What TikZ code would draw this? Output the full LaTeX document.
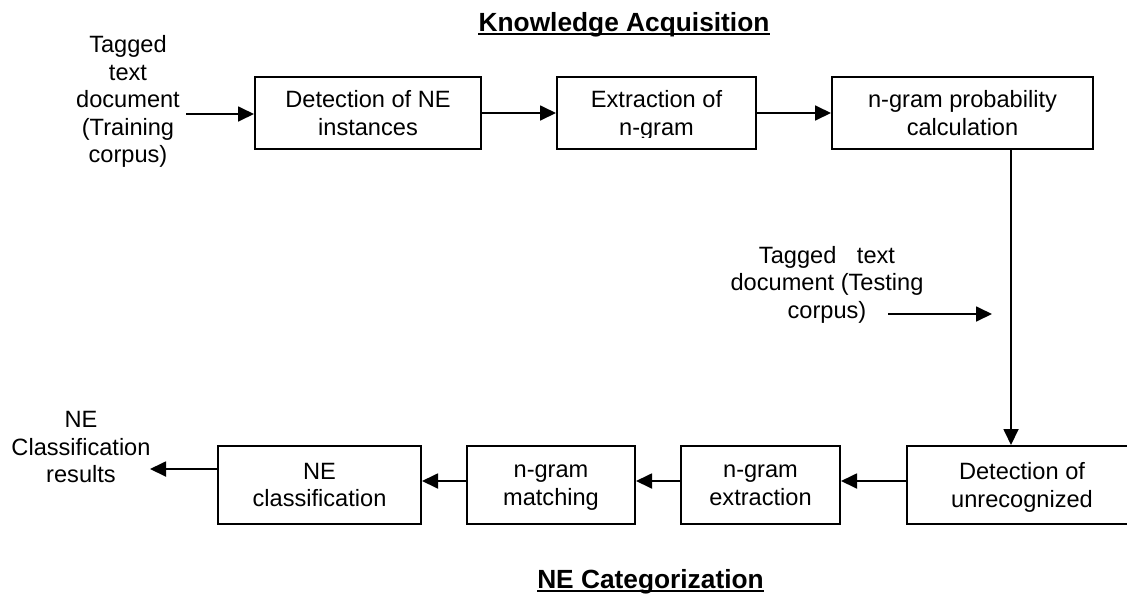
\documentclass[tikz,border=0pt]{standalone}
\usepackage{fontspec}
\setmainfont{Liberation Sans}
\usetikzlibrary{arrows.meta}
\newcommand\lab{\fontsize{23.6}{27.5}\selectfont}
\newcommand\ttl{\fontsize{26.3}{30}\selectfont\bfseries}
\begin{document}
\begin{tikzpicture}[x=1pt,y=-1pt,
  box/.style={draw, line width=2pt, inner sep=0pt, align=center, font=\lab, text depth=0pt},
  lab/.style={align=center, font=\lab, inner sep=0pt},
  ttlnode/.style={font=\ttl, anchor=base, inner sep=0pt},
  uline/.style={line width=2pt},
  arr/.style={line width=1.8pt, -{Triangle[length=16pt,width=15pt]}},
]
\useasboundingbox (0,0) rectangle (1127,595);
\fill[white] (0,0) rectangle (1127,595);

% titles
\node[ttlnode] (t1) at (624,31) {Knowledge Acquisition};
\draw[uline] ([yshift=-3pt]t1.base west) -- ([yshift=-3pt]t1.base east);
\node[ttlnode] (t2) at (650.5,588) {NE Categorization};
\draw[uline] ([yshift=-3pt]t2.base west) -- ([yshift=-3pt]t2.base east);

% top row
\node[box, minimum width=226pt, minimum height=72pt] (b1) at (368,113) {Detection of NE\\instances};
\node[box, minimum width=199pt, minimum height=72pt] (b2) at (656.5,113) {};
\begin{scope}
  \clip (557,77) rectangle (756,137.5);
  \node[lab, text depth=0pt] (b2t) at (656.5,113) {Extraction of\\n-gram};
\end{scope}
\node[box, minimum width=261pt, minimum height=72pt] (b3) at (962.5,113) {n-gram probability\\calculation};

% bottom row
\node[box, minimum width=203pt, minimum height=78pt] (b4) at (319.5,485) {NE\\classification};
\node[box, minimum width=168pt, minimum height=78pt] (b5) at (551,485) {n-gram\\matching};
\node[box, minimum width=159pt, minimum height=78pt] (b6) at (760.5,485) {n-gram\\extraction};
\node[box, minimum width=230pt, minimum height=78pt] (b7) at (1022,485) {Detection of\\unrecognized};

% free labels
\node[lab] (train) at (128,101.5) {Tagged\\text\\document\\(Training\\corpus)};
\node[lab] (test) at (827,284.4) {Tagged\hspace{14pt} text\\document (Testing\\corpus)};
\node[lab] (res) at (81,447) {NE\\Classification\\results};

% coordinates
\coordinate (tin) at (186,114);
\coordinate (tsA) at (888,314);
\coordinate (tsB) at (992,314);
\coordinate (v) at (1011,0);
\coordinate (rout) at (150,469);
\coordinate (brow) at (0,481);

% connectors
\draw[arr] (tin) -- (tin -| b1.west);
\draw[arr] (b1.east) -- (b2.west);
\draw[arr] (b2.east) -- (b3.west);
\draw[line width=1.8pt] (b3.south -| v) -- (tsB -| v);
\draw[arr] (tsB -| v) -- (b7.north -| v);
\draw[arr] (tsA) -- (tsB);
\draw[arr] (b7.west |- brow) -- (b6.east |- brow);
\draw[arr] (b6.west |- brow) -- (b5.east |- brow);
\draw[arr] (b5.west |- brow) -- (b4.east |- brow);
\draw[arr] (b4.west |- rout) -- (rout);
\end{tikzpicture}
\end{document}
